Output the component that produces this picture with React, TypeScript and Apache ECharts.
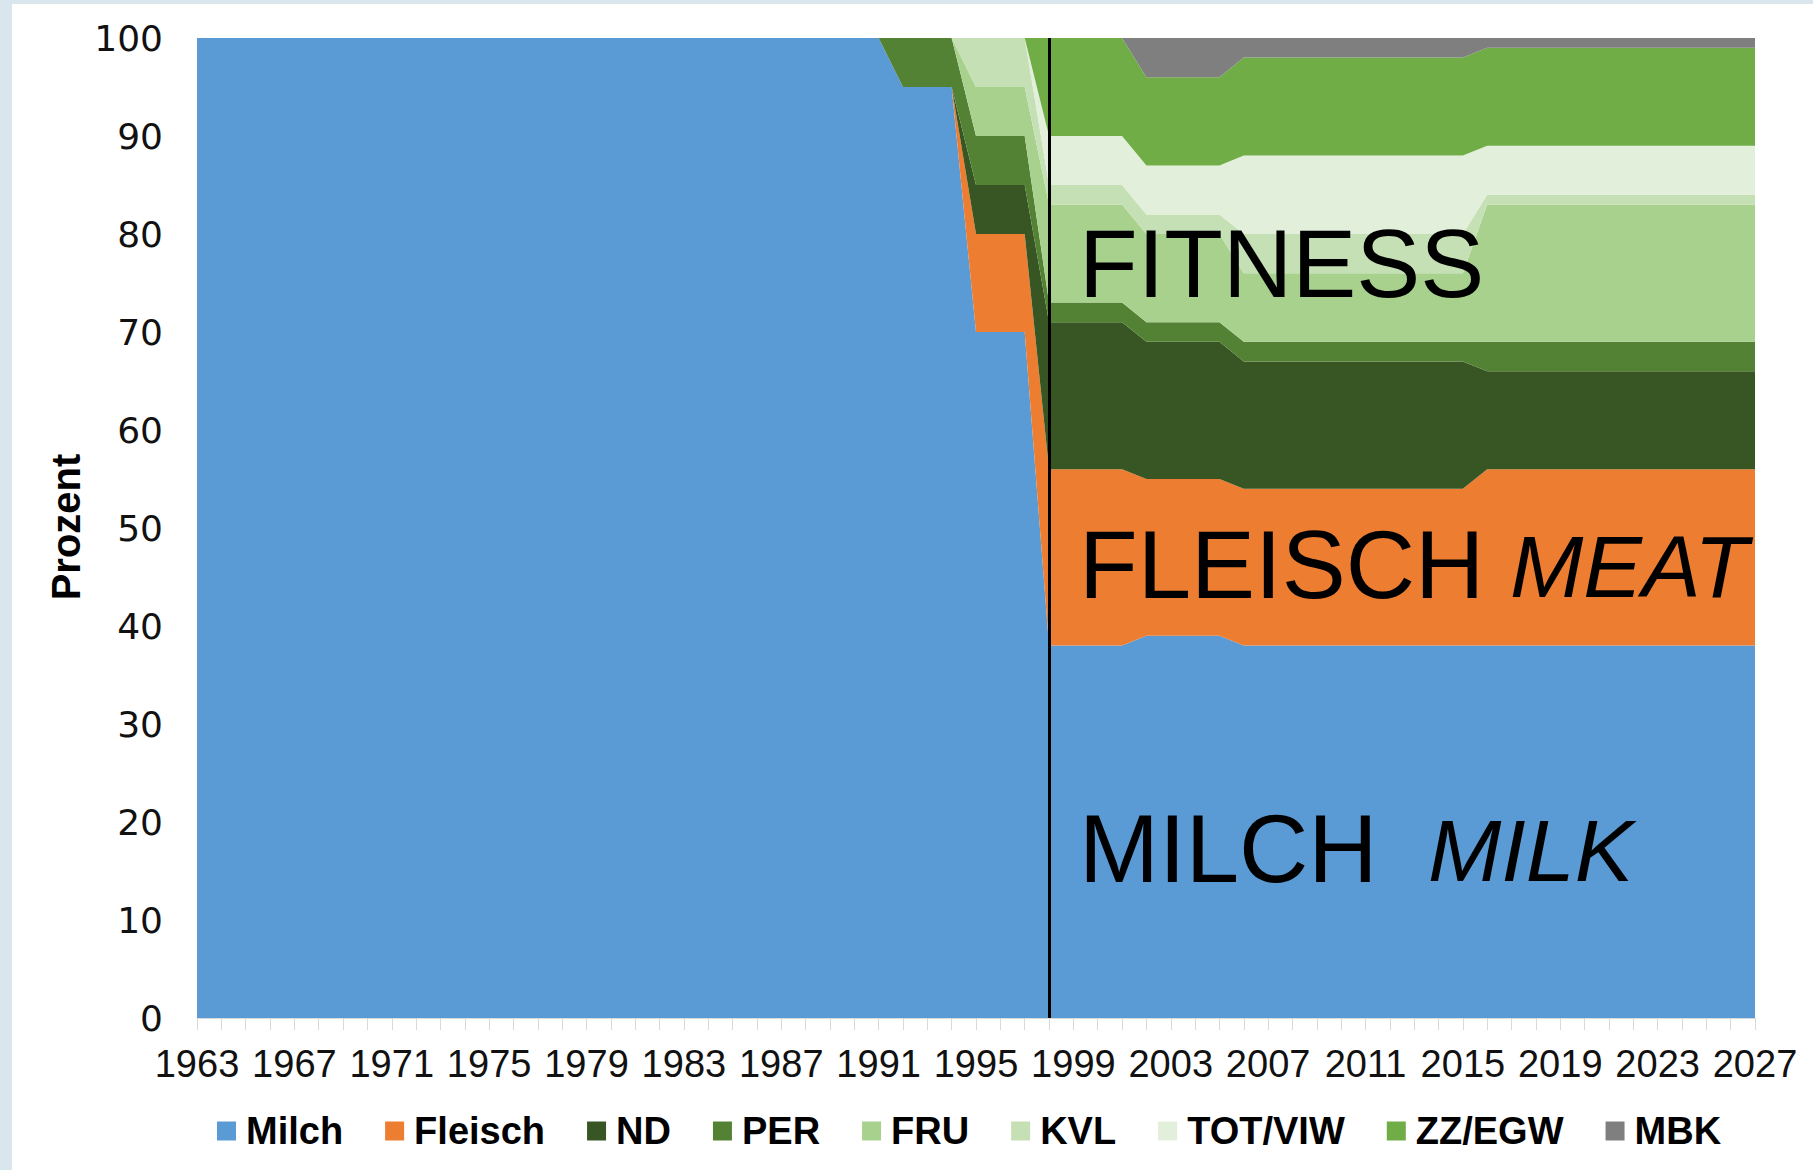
import React, { useEffect, useRef } from "react";
import * as echarts from "echarts";

const years = [
  "1963", "1964", "1965", "1966", "1967", "1968", "1969", "1970", "1971", "1972",
  "1973", "1974", "1975", "1976", "1977", "1978", "1979", "1980", "1981", "1982",
  "1983", "1984", "1985", "1986", "1987", "1988", "1989", "1990", "1991",
  "1992", "1993", "1994",
  "1995", "1996", "1997",
  "1998", "1999", "2000", "2001",
  "2002", "2003", "2004", "2005",
  "2006", "2007", "2008", "2009", "2010", "2011", "2012", "2013", "2014", "2015",
  "2016", "2017", "2018", "2019", "2020", "2021", "2022", "2023", "2024", "2025", "2026", "2027",
];

const milch = [
  100, 100, 100, 100, 100, 100, 100, 100, 100, 100,
  100, 100, 100, 100, 100, 100, 100, 100, 100, 100,
  100, 100, 100, 100, 100, 100, 100, 100, 100,
  95, 95, 95,
  70, 70, 70,
  38, 38, 38, 38,
  39, 39, 39, 39,
  38, 38, 38, 38, 38, 38, 38, 38, 38, 38,
  38, 38, 38, 38, 38, 38, 38, 38, 38, 38, 38, 38,
];
const fleisch = [
  0, 0, 0, 0, 0, 0, 0, 0, 0, 0,
  0, 0, 0, 0, 0, 0, 0, 0, 0, 0,
  0, 0, 0, 0, 0, 0, 0, 0, 0,
  0, 0, 0,
  10, 10, 10,
  18, 18, 18, 18,
  16, 16, 16, 16,
  16, 16, 16, 16, 16, 16, 16, 16, 16, 16,
  18, 18, 18, 18, 18, 18, 18, 18, 18, 18, 18, 18,
];
const nd = [
  0, 0, 0, 0, 0, 0, 0, 0, 0, 0,
  0, 0, 0, 0, 0, 0, 0, 0, 0, 0,
  0, 0, 0, 0, 0, 0, 0, 0, 0,
  0, 0, 0,
  5, 5, 5,
  15, 15, 15, 15,
  14, 14, 14, 14,
  13, 13, 13, 13, 13, 13, 13, 13, 13, 13,
  10, 10, 10, 10, 10, 10, 10, 10, 10, 10, 10, 10,
];
const per = [
  0, 0, 0, 0, 0, 0, 0, 0, 0, 0,
  0, 0, 0, 0, 0, 0, 0, 0, 0, 0,
  0, 0, 0, 0, 0, 0, 0, 0, 0,
  5, 5, 5,
  5, 5, 5,
  2, 2, 2, 2,
  2, 2, 2, 2,
  2, 2, 2, 2, 2, 2, 2, 2, 2, 2,
  3, 3, 3, 3, 3, 3, 3, 3, 3, 3, 3, 3,
];
const fru = [
  0, 0, 0, 0, 0, 0, 0, 0, 0, 0,
  0, 0, 0, 0, 0, 0, 0, 0, 0, 0,
  0, 0, 0, 0, 0, 0, 0, 0, 0,
  0, 0, 0,
  5, 5, 5,
  10, 10, 10, 10,
  9, 9, 9, 9,
  7, 7, 7, 7, 7, 7, 7, 7, 7, 7,
  14, 14, 14, 14, 14, 14, 14, 14, 14, 14, 14, 14,
];
const kvl = [
  0, 0, 0, 0, 0, 0, 0, 0, 0, 0,
  0, 0, 0, 0, 0, 0, 0, 0, 0, 0,
  0, 0, 0, 0, 0, 0, 0, 0, 0,
  0, 0, 0,
  5, 5, 5,
  2, 2, 2, 2,
  2, 2, 2, 2,
  4, 4, 4, 4, 4, 4, 4, 4, 4, 4,
  1, 1, 1, 1, 1, 1, 1, 1, 1, 1, 1, 1,
];
const totViw = [
  0, 0, 0, 0, 0, 0, 0, 0, 0, 0,
  0, 0, 0, 0, 0, 0, 0, 0, 0, 0,
  0, 0, 0, 0, 0, 0, 0, 0, 0,
  0, 0, 0,
  0, 0, 0,
  5, 5, 5, 5,
  5, 5, 5, 5,
  8, 8, 8, 8, 8, 8, 8, 8, 8, 8,
  5, 5, 5, 5, 5, 5, 5, 5, 5, 5, 5, 5,
];
const zzEgw = [
  0, 0, 0, 0, 0, 0, 0, 0, 0, 0,
  0, 0, 0, 0, 0, 0, 0, 0, 0, 0,
  0, 0, 0, 0, 0, 0, 0, 0, 0,
  0, 0, 0,
  0, 0, 0,
  10, 10, 10, 10,
  9, 9, 9, 9,
  10, 10, 10, 10, 10, 10, 10, 10, 10, 10,
  10, 10, 10, 10, 10, 10, 10, 10, 10, 10, 10, 10,
];
const mbk = [
  0, 0, 0, 0, 0, 0, 0, 0, 0, 0,
  0, 0, 0, 0, 0, 0, 0, 0, 0, 0,
  0, 0, 0, 0, 0, 0, 0, 0, 0,
  0, 0, 0,
  0, 0, 0,
  0, 0, 0, 0,
  4, 4, 4, 4,
  2, 2, 2, 2, 2, 2, 2, 2, 2, 2,
  1, 1, 1, 1, 1, 1, 1, 1, 1, 1, 1, 1,
];

const seriesNames = ["Milch", "Fleisch", "ND", "PER", "FRU", "KVL", "TOT/VIW", "ZZ/EGW", "MBK"];
const seriesData = [milch, fleisch, nd, per, fru, kvl, totViw, zzEgw, mbk];
const seriesColors = ["#5B9BD5", "#ED7D31", "#375623", "#548235", "#A9D18E", "#C5E0B4", "#E2EFDA", "#70AD47", "#7F7F7F"];
const markerYear = "1998";

const FONT = "'Liberation Sans', Arial, sans-serif";

export default function App() {
  const ref = useRef<HTMLDivElement>(null);

  useEffect(() => {
    if (!ref.current) return;
    const chart = echarts.init(ref.current, null, { renderer: "svg" });

    const series: any[] = seriesNames.map((name, i) => ({
      name,
      type: "line",
      stack: "total",
      data: seriesData[i],
      symbol: "none",
      showSymbol: false,
      lineStyle: { width: 0 },
      areaStyle: { color: seriesColors[i], opacity: 1 },
      itemStyle: { color: seriesColors[i] },
      silent: true,
      z: 2,
    }));
    series[series.length - 1].markLine = {
      silent: true,
      symbol: ["none", "none"],
      label: { show: false },
      lineStyle: { color: "#000", width: 3, type: "solid" },
      data: [{ xAxis: markerYear }],
      z: 10,
    };

    chart.setOption({
      animation: false,
      backgroundColor: "#ffffff",
      grid: { left: 197, right: 58, top: 38, bottom: 152, containLabel: false },
      legend: {
        data: seriesNames,
        left: 217,
        top: 1112,
        padding: 0,
        itemWidth: 19,
        itemHeight: 19,
        itemGap: 42,
        icon: "rect",
        selectedMode: false,
        textStyle: {
          fontFamily: FONT,
          fontSize: 38,
          fontWeight: "bold",
          color: "#000",
          padding: [0, 0, 0, 5],
        },
      },
      xAxis: {
        type: "category",
        data: years,
        boundaryGap: false,
        axisLine: { show: true, lineStyle: { color: "#d9d9d9", width: 1 } },
        axisTick: { show: true, interval: 0, length: 12, lineStyle: { color: "#d9d9d9", width: 1 } },
        axisLabel: {
          interval: 3,
          margin: 27,
          fontFamily: FONT,
          fontSize: 38,
          color: "#111",
        },
        splitLine: { show: false },
      },
      yAxis: {
        type: "value",
        min: 0,
        max: 100,
        interval: 10,
        axisLine: { show: false },
        axisTick: { show: false },
        splitLine: { show: false },
        axisLabel: {
          margin: 34,
          fontFamily: "'DejaVu Sans', Verdana, sans-serif",
          fontSize: 36,
          color: "#111",
        },
      },
      graphic: [
        { type: "rect", shape: { x: 0, y: 0, width: 12, height: 1170 }, style: { fill: "#dae6ed" }, z: 0 },
        { type: "rect", shape: { x: 0, y: 0, width: 1813, height: 4 }, style: { fill: "#dae6ed" }, z: 0 },
        {
          type: "text",
          x: 66,
          y: 527,
          rotation: Math.PI / 2,
          style: { text: "Prozent", fontFamily: FONT, fontSize: 40, fontWeight: "bold", fill: "#000", align: "center", verticalAlign: "middle" },
          z: 100,
        },
        {
          type: "text",
          x: 1079,
          y: 263,
          style: { text: "FITNESS", fontFamily: FONT, fontSize: 96, fill: "#000", align: "left", verticalAlign: "middle" },
          z: 100,
        },
        {
          type: "text",
          x: 1079,
          y: 564,
          style: { text: "FLEISCH", fontFamily: FONT, fontSize: 96, fill: "#000", align: "left", verticalAlign: "middle" },
          z: 100,
        },
        {
          type: "text",
          x: 1510,
          y: 566,
          style: { text: "MEAT", fontFamily: FONT, fontSize: 88, fontStyle: "italic", fill: "#000", align: "left", verticalAlign: "middle" },
          z: 100,
        },
        {
          type: "text",
          x: 1428,
          y: 850,
          style: { text: "MILK", fontFamily: FONT, fontSize: 88, fontStyle: "italic", fill: "#000", align: "left", verticalAlign: "middle" },
          z: 100,
        },
        {
          type: "text",
          x: 1079,
          y: 848,
          style: { text: "MILCH", fontFamily: FONT, fontSize: 96, fill: "#000", align: "left", verticalAlign: "middle" },
          z: 100,
        },
      ],
      series,
    });

    return () => chart.dispose();
  }, []);

  return (
    <div
      ref={ref}
      style={{ position: "fixed", left: 0, top: 0, width: 1813, height: 1170, background: "#fff" }}
    />
  );
}
